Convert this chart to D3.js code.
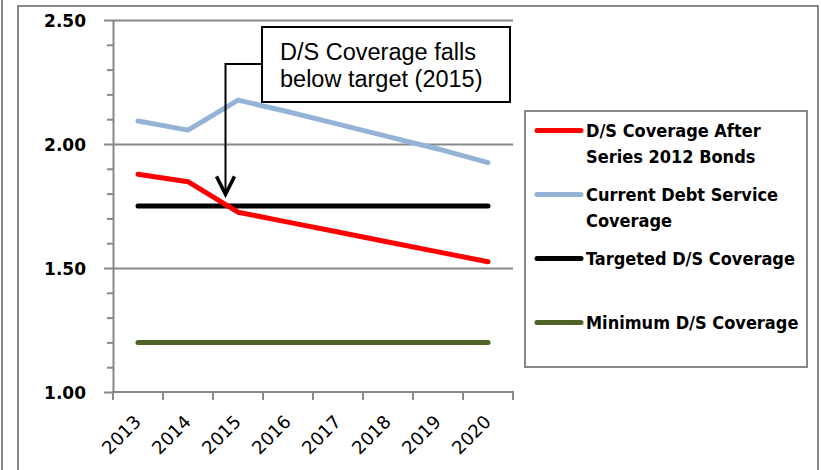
<!DOCTYPE html>
<html>
<head>
<meta charset="utf-8">
<script src="https://cdn.jsdelivr.net/npm/d3@7"></script>
<style>
  body { margin: 0; background: #fff; }
  svg { display: block; }
</style>
</head>
<body>
<div id="chart"></div>
<script>
// data
var years = ["2013", "2014", "2015", "2016", "2017", "2018", "2019", "2020"];
var afterBonds = [1.878, 1.848, 1.725, 1.685, 1.645, 1.605, 1.565, 1.525];
var currentCoverage = [2.093, 2.056, 2.177, 2.13, 2.08, 2.03, 1.98, 1.925];
var targetCoverage = [1.75, 1.75, 1.75, 1.75, 1.75, 1.75, 1.75, 1.75];
var minimumCoverage = [1.2, 1.2, 1.2, 1.2, 1.2, 1.2, 1.2, 1.2];
var seriesNames = [
    ["D/S Coverage After", "Series 2012 Bonds"],
    ["Current Debt Service", "Coverage"],
    ["Targeted D/S Coverage"],
    ["Minimum D/S Coverage"]
];
var seriesColors = ["#ff0000", "#95b3d7", "#000000", "#4f6228"];
var yMajor = [1.0, 1.5, 2.0, 2.5];
var yMinor = [1.1, 1.2, 1.3, 1.4, 1.6, 1.7, 1.8, 1.9, 2.1, 2.2, 2.3, 2.4];
var noteLines = ["D/S Coverage falls", "below target (2015)"];

var width = 821, height = 470;
var plot = {left: 113, right: 513, top: 20, bottom: 392};
var grey = "#888888";

var svg = d3.select("#chart").append("svg")
    .attr("width", width)
    .attr("height", height);

// outer frames
svg.append("line")
    .attr("x1", 2).attr("x2", 2).attr("y1", 0).attr("y2", height)
    .attr("stroke", grey).attr("stroke-width", 2);
svg.append("path")
    .attr("d", "M18," + height + "V6H818V" + height)
    .attr("fill", "none").attr("stroke", grey).attr("stroke-width", 2);

var x = d3.scaleBand().domain(years).range([plot.left, plot.right]).padding(0);
var y = d3.scaleLinear().domain([1, 2.5]).range([plot.bottom, plot.top]);

// gridlines
svg.append("g")
    .attr("transform", "translate(" + plot.left + ",0)")
    .call(d3.axisLeft(y).tickValues(yMajor.slice(1)).tickSize(-(plot.right - plot.left)).tickFormat(""))
    .call(g => g.select(".domain").remove())
    .call(g => g.selectAll("line").attr("stroke", grey).attr("stroke-width", 2));

// y axis minor ticks
svg.append("g")
    .attr("transform", "translate(" + plot.left + ",0)")
    .call(d3.axisLeft(y).tickValues(yMinor).tickSize(6).tickFormat(""))
    .call(g => g.select(".domain").remove())
    .call(g => g.selectAll("line").attr("stroke", grey).attr("stroke-width", 2));

// y axis major
svg.append("g")
    .attr("transform", "translate(" + plot.left + ",0)")
    .call(d3.axisLeft(y).tickValues(yMajor).tickSize(9).tickSizeOuter(0).tickPadding(18).tickFormat(d3.format(".2f")))
    .call(g => g.select(".domain").attr("stroke", grey).attr("stroke-width", 2))
    .call(g => g.selectAll("line").attr("stroke", grey).attr("stroke-width", 2))
    .call(g => g.selectAll("text")
        .attr("fill", "#000")
        .attr("dy", "0.36em")
        .style("font-family", "'DejaVu Sans', Verdana, sans-serif")
        .style("font-weight", "bold")
        .style("font-size", "17px"));

// x axis
var xAxisG = svg.append("g")
    .attr("transform", "translate(0," + plot.bottom + ")");
xAxisG.append("line")
    .attr("x1", plot.left).attr("x2", plot.right)
    .attr("stroke", grey).attr("stroke-width", 2);
xAxisG.selectAll(".xtick")
    .data(years.concat(["end"]))
    .enter().append("line")
    .attr("class", "xtick")
    .attr("x1", (d, i) => plot.left + i * x.bandwidth())
    .attr("x2", (d, i) => plot.left + i * x.bandwidth())
    .attr("y1", -1).attr("y2", 8)
    .attr("stroke", grey).attr("stroke-width", 2);
xAxisG.selectAll(".xlabel")
    .data(years)
    .enter().append("text")
    .attr("class", "xlabel")
    .attr("text-anchor", "end")
    .attr("transform", d => "translate(" + (x(d) + x.bandwidth() / 2 + 4) + ",31) rotate(-45)")
    .style("font-family", "'DejaVu Sans', Verdana, sans-serif")
    .style("font-size", "18px")
    .attr("fill", "#000")
    .text(d => d);

// lines
var series = [afterBonds, currentCoverage, targetCoverage, minimumCoverage];
var line = d3.line()
    .x((d, i) => x(years[i]) + x.bandwidth() / 2)
    .y(d => y(d));

var drawOrder = [3, 2, 1, 0];
drawOrder.forEach(function(k) {
    svg.append("path")
        .datum(series[k])
        .attr("d", line)
        .attr("fill", "none")
        .attr("stroke", seriesColors[k])
        .attr("stroke-width", 5)
        .attr("stroke-linecap", "round")
        .attr("stroke-linejoin", "round");
});

// annotation: arrow points at where the red line crosses the target
var tipX = x("2014") + x.bandwidth() * 1.25;
var tipY = y(1.797);
svg.append("path")
    .attr("d", "M262,64H" + tipX + "V" + tipY)
    .attr("fill", "none").attr("stroke", "#000").attr("stroke-width", 2);
svg.append("path")
    .attr("d", "M" + (tipX - 9) + "," + (tipY - 18) + "L" + tipX + "," + tipY + "L" + (tipX + 9) + "," + (tipY - 18))
    .attr("fill", "none").attr("stroke", "#000").attr("stroke-width", 3.5)
    .attr("stroke-linejoin", "miter");
svg.append("rect")
    .attr("x", 262).attr("y", 27).attr("width", 248).attr("height", 75)
    .attr("fill", "#fff").attr("stroke", "#000").attr("stroke-width", 2);
svg.selectAll(".note")
    .data(noteLines)
    .enter().append("text")
    .attr("class", "note")
    .attr("x", 280)
    .attr("y", (d, i) => 59.5 + i * 27.7)
    .style("font-family", "'Liberation Sans', Arial, sans-serif")
    .style("font-size", "23.5px")
    .attr("fill", "#000")
    .text(d => d);

// legend
var legend = svg.append("g");
legend.append("rect")
    .attr("x", 525).attr("y", 111).attr("width", 282).attr("height", 256)
    .attr("fill", "#fff").attr("stroke", grey).attr("stroke-width", 2);
seriesNames.forEach(function(lines, k) {
    var base = 137 + k * 64;
    legend.append("line")
        .attr("x1", 537).attr("x2", 581)
        .attr("y1", base - 6.5).attr("y2", base - 6.5)
        .attr("stroke", seriesColors[k]).attr("stroke-width", 5)
        .attr("stroke-linecap", "round");
    lines.forEach(function(t, j) {
        legend.append("text")
            .attr("x", 586)
            .attr("y", base + j * 26)
            .style("font-family", "'DejaVu Sans Condensed', 'DejaVu Sans', sans-serif")
            .style("font-weight", "bold")
            .style("font-size", "18px")
            .attr("fill", "#000")
            .text(t);
    });
});
</script>
</body>
</html>
